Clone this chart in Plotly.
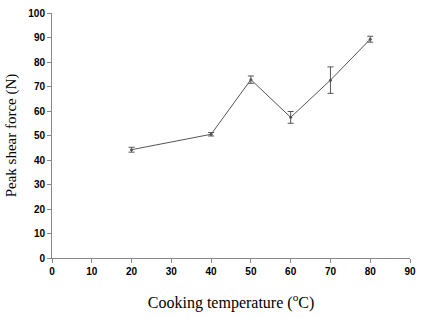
import plotly.graph_objects as go

temps = [20, 40, 50, 60, 70, 80]
force = [44.2, 50.5, 72.8, 57.4, 72.6, 89.3]
err = [1.0, 0.7, 1.5, 2.4, 5.4, 1.2]

fig = go.Figure()
fig.add_trace(go.Scatter(
    x=temps, y=force, mode="lines+markers",
    line=dict(color="#555555", width=1),
    marker=dict(size=3, color="#555555"),
    error_y=dict(type="data", array=err, visible=True, color="#555555", thickness=1, width=3),
    showlegend=False,
))

fig.update_layout(
    width=423, height=318,
    margin=dict(l=52, r=7, t=7, b=60),
    paper_bgcolor="white", plot_bgcolor="white",
    xaxis=dict(
        range=[0, 90], tickvals=list(range(0, 91, 10)),
        showgrid=False, zeroline=False, showline=True, linecolor="#888888", linewidth=1,
        ticks="outside", ticklen=4, tickcolor="#888888",
        tickfont=dict(family="Liberation Sans, Arial", size=10, color="black", weight="bold"),
        title=dict(text="Cooking temperature (<sup>o</sup>C)", standoff=20,
                   font=dict(family="Liberation Serif, Times New Roman", size=16, color="black")),
    ),
    yaxis=dict(
        range=[0, 100], tickvals=list(range(0, 101, 10)),
        showgrid=False, zeroline=False, showline=True, linecolor="#888888", linewidth=1,
        ticks="outside", ticklen=4, tickcolor="#888888",
        tickfont=dict(family="Liberation Sans, Arial", size=10, color="black", weight="bold"),
        title=dict(text="Peak shear force (N)", standoff=8,
                   font=dict(family="Liberation Serif, Times New Roman", size=15, color="black")),
    ),
)

fig.write_html("out.html")
